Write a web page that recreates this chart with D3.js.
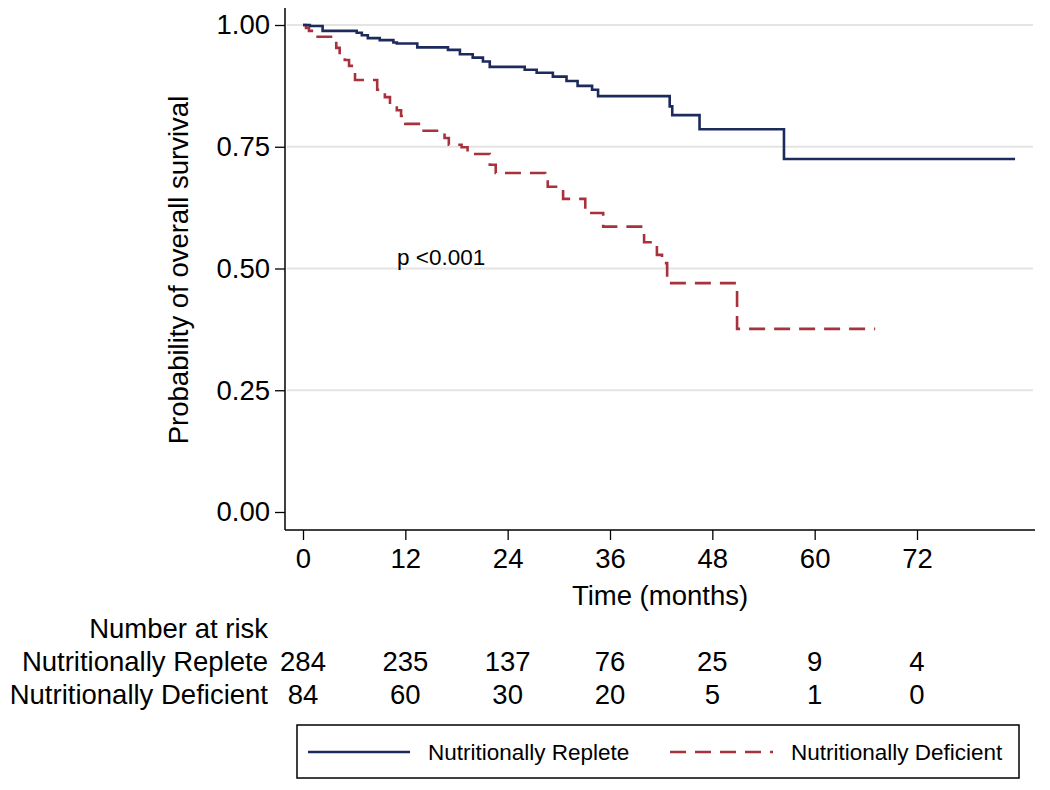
<!DOCTYPE html>
<html><head><meta charset="utf-8">
<script src="https://cdn.jsdelivr.net/npm/d3@7"></script>
<style>
body{margin:0;background:#fff;}
text{font-family:"Liberation Sans",Arial,Helvetica,sans-serif;fill:#000;}
</style></head>
<body><svg id="c" width="1050" height="790"></svg>
<script>
// ---- data ----
const repleteTimes  = [0, 0.8, 2.3, 6.3, 6.9, 7.6, 9.0, 10.6, 11.0, 13.4, 17.0, 18.4, 19.9, 21.1, 21.9, 26.0, 27.4, 29.3, 30.9, 32.2, 33.9, 34.6, 43.0, 43.3, 46.5, 56.4, 83.5];
const repleteSurv   = [1, 0.998, 0.988, 0.984, 0.979, 0.973, 0.969, 0.964, 0.962, 0.954, 0.949, 0.940, 0.933, 0.925, 0.914, 0.908, 0.902, 0.894, 0.885, 0.875, 0.867, 0.854, 0.833, 0.815, 0.786, 0.725, 0.725];
const deficientTimes = [0, 0.35, 0.7, 1.2, 3.9, 4.3, 4.9, 5.4, 6.1, 8.7, 9.6, 10.2, 11.0, 11.5, 12.0, 13.8, 16.6, 17.1, 18.6, 19.3, 21.9, 22.6, 28.4, 28.7, 30.5, 33.1, 35.2, 40.0, 41.5, 42.1, 42.7, 50.9, 67.1];
const deficientSurv  = [1, 0.994, 0.988, 0.976, 0.953, 0.938, 0.928, 0.916, 0.887, 0.867, 0.852, 0.836, 0.825, 0.813, 0.797, 0.783, 0.768, 0.754, 0.749, 0.735, 0.713, 0.696, 0.682, 0.668, 0.643, 0.614, 0.586, 0.554, 0.528, 0.511, 0.470, 0.376, 0.376];
const xTicks = [0, 12, 24, 36, 48, 60, 72];
const yTicks = [0, 0.25, 0.5, 0.75, 1];
const seriesNames = ["Nutritionally Replete", "Nutritionally Deficient"];
const riskReplete   = [284, 235, 137, 76, 25, 9, 4];
const riskDeficient = [84, 60, 30, 20, 5, 1, 0];
const pText = "p <0.001";

// ---- drawing ----
const svg = d3.select("#c");
const blue = "#1c2a5c", red = "#a8323c";
const x = d3.scaleLinear().domain([0, 72]).range([303, 917]);
const y = d3.scaleLinear().domain([0, 1]).range([512, 25]);
const xLeft = 285, xRight = 1035, yBottom = 530, yTop = 8;

// gridlines
svg.append("g").selectAll("line").data(yTicks.filter(d => d > 0)).join("line")
  .attr("x1", xLeft + 2).attr("x2", 1033)
  .attr("y1", d => y(d)).attr("y2", d => y(d))
  .attr("stroke", "#e4e4e4").attr("stroke-width", 2);

// curves
const line = d3.line().x(d => x(d[0])).y(d => y(d[1])).curve(d3.curveStepAfter);
const rep = repleteTimes.map((t, i) => [t, repleteSurv[i]]);
const def = deficientTimes.map((t, i) => [t, deficientSurv[i]]);
svg.append("path").attr("d", line(def)).attr("fill", "none")
  .attr("stroke", red).attr("stroke-width", 2.6).attr("stroke-dasharray", "16,9");
svg.append("path").attr("d", line(rep)).attr("fill", "none")
  .attr("stroke", blue).attr("stroke-width", 2.6);

// y axis
const yAxis = svg.append("g").attr("transform", `translate(${xLeft},0)`)
  .call(d3.axisLeft(y).tickValues(yTicks).tickFormat(d3.format(".2f")).tickSize(10).tickPadding(5));
yAxis.select(".domain").remove();
yAxis.selectAll("line").attr("stroke", "#000").attr("stroke-width", 1.3);
yAxis.selectAll("text").style("font-size", "27.5px").attr("fill", "#000");
svg.append("line").attr("x1", xLeft).attr("x2", xLeft).attr("y1", yTop).attr("y2", yBottom)
  .attr("stroke", "#000").attr("stroke-width", 1.5);

// x axis
const xAxis = svg.append("g").attr("transform", `translate(0,${yBottom})`)
  .call(d3.axisBottom(x).tickValues(xTicks).tickSize(10).tickPadding(8));
xAxis.select(".domain").remove();
xAxis.selectAll("line").attr("stroke", "#000").attr("stroke-width", 1.3);
xAxis.selectAll("text").style("font-size", "27.5px").attr("fill", "#000");
svg.append("line").attr("x1", xLeft).attr("x2", xRight).attr("y1", yBottom).attr("y2", yBottom)
  .attr("stroke", "#000").attr("stroke-width", 1.5);

// axis titles
svg.append("text").attr("x", 660).attr("y", 605).attr("text-anchor", "middle")
  .style("font-size", "27.5px").text("Time (months)");
svg.append("text").attr("transform", "translate(188,270) rotate(-90)").attr("text-anchor", "middle")
  .style("font-size", "27.5px").text("Probability of overall survival");

// p value
svg.append("text").attr("x", 397).attr("y", 265).style("font-size", "22.5px").text(pText);

// number at risk table
svg.append("text").attr("x", 268).attr("y", 638).attr("text-anchor", "end")
  .style("font-size", "27.5px").text("Number at risk");
[[riskReplete, 671, seriesNames[0]], [riskDeficient, 704, seriesNames[1]]].forEach(([vals, yy, name]) => {
  svg.append("text").attr("x", 268).attr("y", yy).attr("text-anchor", "end")
    .style("font-size", "27.5px").text(name);
  svg.append("g").selectAll("text").data(vals).join("text")
    .attr("x", (d, i) => x(xTicks[i])).attr("y", yy).attr("text-anchor", "middle")
    .style("font-size", "27.5px").text(d => d);
});

// legend
const lg = svg.append("g");
lg.append("rect").attr("x", 297).attr("y", 725).attr("width", 722).attr("height", 53)
  .attr("fill", "#fff").attr("stroke", "#000").attr("stroke-width", 1.5);
lg.append("line").attr("x1", 308).attr("x2", 410).attr("y1", 752).attr("y2", 752)
  .attr("stroke", blue).attr("stroke-width", 2.6);
lg.append("text").attr("x", 428).attr("y", 760).style("font-size", "22.5px").text(seriesNames[0]);
lg.append("line").attr("x1", 670).attr("x2", 773).attr("y1", 752).attr("y2", 752)
  .attr("stroke", red).attr("stroke-width", 2.6).attr("stroke-dasharray", "16,9");
lg.append("text").attr("x", 791).attr("y", 760).style("font-size", "22.5px").text(seriesNames[1]);
</script></body></html>
